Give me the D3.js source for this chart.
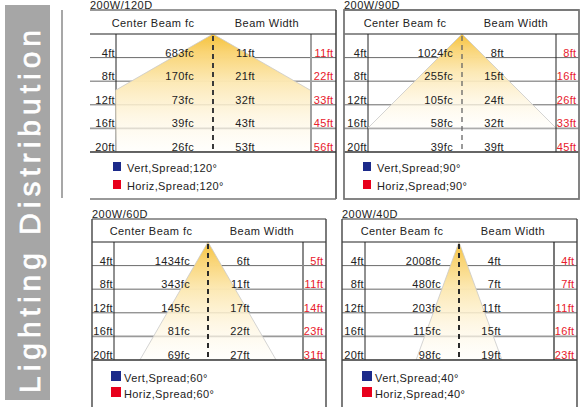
<!DOCTYPE html>
<html lang="en">
<head>
<meta charset="utf-8">
<script src="https://cdn.jsdelivr.net/npm/d3@7"></script>
<style>
  body { margin: 0; background: #fff; }
  text { font-family: "Liberation Sans", Arial, sans-serif; }
</style>
</head>
<body>
<script>
  // chart data
  const pageTitle = "Lighting Distribution";
  const panelTitles = ["200W/120D", "200W/90D", "200W/60D", "200W/40D"];
  const spreads = [120, 90, 60, 40];
  const columnHeaders = ["Center Beam fc", "Beam Width"];
  const distances = [4, 8, 12, 16, 20];
  const centerFc = [
    [683, 170, 73, 39, 26],
    [1024, 255, 105, 58, 39],
    [1434, 343, 145, 81, 69],
    [2008, 480, 203, 115, 98]
  ];
  const vertWidth = [
    [11, 21, 32, 43, 53],
    [8, 15, 24, 32, 39],
    [6, 11, 17, 22, 27],
    [4, 7, 11, 15, 19]
  ];
  const horizWidth = [
    [11, 22, 33, 45, 56],
    [8, 16, 26, 33, 45],
    [5, 11, 14, 23, 31],
    [4, 7, 11, 16, 23]
  ];
  const legendNames = ["Vert,Spread;", "Horiz,Spread;"];
  const legendColors = ["#1b2a8a", "#e8001c"];

  // where each panel sits
  const layout = [
    {x0: 90, x1: 336, top: 10, bottom: 199, hdr: 34, col1: 116, col2: 311, apex: 213, fcRight: 194,
     box: "right", fan: "rect", lx: 113, ly: 162, sq: [8, 9], tx: 127, dash: ["#3a3a3a", 2], rc: ["#a0a0a0", 2]},
    {x0: 344, x1: 579, top: 10, bottom: 199, hdr: 34, col1: 368, col2: 556, apex: 462, fcRight: 453,
     box: "full", fan: "tri", lx: 363, ly: 162, sq: [8, 9], tx: 377, dash: ["#666", 1.3], rc: ["#222", 1]},
    {x0: 92, x1: 326, top: 219, bottom: 420, hdr: 242, col1: 114, col2: 303, apex: 208, fcRight: 190,
     box: "open", fan: "tri", lx: 111, ly: 371, sq: [10, 10], tx: 124, dash: ["#2a2a2a", 2], rc: ["#8a8a8a", 2]},
    {x0: 342, x1: 577, top: 219, bottom: 420, hdr: 242, col1: 365, col2: 554, apex: 459, fcRight: 441,
     box: "open", fan: "tri", lx: 362, ly: 371, sq: [10, 10], tx: 375, dash: ["#2a2a2a", 2], rc: ["#777", 2]}
  ];

  const w = 582, h = 407;
  const svg = d3.select("body").append("svg")
    .attr("width", w)
    .attr("height", h);

  const defs = svg.append("defs");
  const grad = defs.append("linearGradient")
    .attr("id", "beam")
    .attr("x1", 0).attr("y1", 0).attr("x2", 0).attr("y2", 1);
  [[0, "#f6c23a", 1], [0.15, "#f9d474", 1], [0.4, "#fce8b2", 0.97], [0.7, "#fef5de", 0.8], [1, "#fffefa", 0.5]]
    .forEach(s => grad.append("stop")
      .attr("offset", s[0]).attr("stop-color", s[1]).attr("stop-opacity", s[2]));

  // left title band
  svg.append("rect")
    .attr("x", 5).attr("y", 5)
    .attr("width", 45).attr("height", 395)
    .attr("fill", "#a6a6a6");
  svg.append("text")
    .attr("transform", "translate(40,393) rotate(-90)")
    .attr("textLength", 363)
    .attr("lengthAdjust", "spacing")
    .style("font-size", "30px")
    .attr("fill", "#fff")
    .attr("stroke", "#fff").attr("stroke-width", 0.7)
    .text(pageTitle);
  svg.append("line")
    .attr("x1", 62).attr("x2", 62).attr("y1", 10).attr("y2", 198)
    .attr("stroke", "#8a8a8a").attr("stroke-width", 1.5);

  const ink = "#222";
  const red = "#e8202c";

  panelTitles.forEach((title, p) => {
    const L = layout[p];
    const g = svg.append("g");
    const y = d3.scaleLinear().domain([0, 20]).range([L.hdr, L.hdr + 118]);
    const x = d3.scaleLinear().domain([-20, 20]).range([L.apex - 118, L.apex + 118]);

    g.append("text")
      .attr("x", L.x0).attr("y", L.top - 1.5)
      .style("font-size", "11px").style("letter-spacing", "0.5px")
      .attr("fill", ink).text(title);

    // row lines
    g.selectAll(".row")
      .data(distances.slice(0, 4))
      .join("line")
      .attr("x1", L.x0).attr("x2", L.x1)
      .attr("y1", d => y(d)).attr("y2", d => y(d))
      .attr("stroke", (d, i) => i % 2 ? "#9a9a9a" : "#6a6a6a")
      .attr("stroke-width", (d, i) => i % 2 ? 1.6 : 1);

    // left column line (under the beam)
    g.append("line")
      .attr("x1", L.col1).attr("x2", L.col1)
      .attr("y1", y(0)).attr("y2", y(20))
      .attr("stroke", "#222").attr("stroke-width", 1);

    // beam fan
    const half = Math.tan(spreads[p] / 2 * Math.PI / 180);
    const clipId = "clip" + p;
    defs.append("clipPath").attr("id", clipId)
      .append("rect")
      .attr("x", L.col1 - 0.5).attr("y", y(0))
      .attr("width", L.col2 - L.col1).attr("height", y(20) - y(0));
    let pts;
    if (L.fan === "rect") {
      const dHit = x.invert(L.col2 + 2) / half;
      pts = [[x(0), y(0)], [x(dHit * half), y(dHit)], [x(dHit * half), y(20)],
             [x(-dHit * half), y(20)], [x(-dHit * half), y(dHit)]];
    } else {
      const dEnd = Math.min(20, x.invert(L.col2) / half);
      pts = [[x(0), y(0)], [x(dEnd * half), y(dEnd)], [x(-dEnd * half), y(dEnd)]];
    }
    g.append("path")
      .attr("d", d3.line()(pts) + "Z")
      .attr("clip-path", "url(#" + clipId + ")")
      .attr("fill", "url(#beam)")
      .attr("stroke", "#c9c9c9").attr("stroke-width", 0.8);

    // right column line
    g.append("line")
      .attr("x1", L.col2).attr("x2", L.col2)
      .attr("y1", y(0)).attr("y2", y(20))
      .attr("stroke", L.rc[0]).attr("stroke-width", L.rc[1]);

    // center dashed axis
    g.append("line")
      .attr("x1", x(0)).attr("x2", x(0))
      .attr("y1", y(0) + 2).attr("y2", y(20))
      .attr("stroke", L.dash[0]).attr("stroke-width", L.dash[1])
      .attr("stroke-dasharray", "5,4");

    // frame
    g.append("line").attr("x1", L.x0).attr("x2", L.x1).attr("y1", L.top).attr("y2", L.top)
      .attr("stroke", "#333").attr("stroke-width", 1.2);
    g.append("line").attr("x1", L.x0).attr("x2", L.x1).attr("y1", L.hdr).attr("y2", L.hdr)
      .attr("stroke", "#222").attr("stroke-width", 1.2);
    g.append("line").attr("x1", L.x0).attr("x2", L.x1).attr("y1", y(20)).attr("y2", y(20))
      .attr("stroke", "#333").attr("stroke-width", 1.6);
    if (L.box === "right") {
      g.append("line").attr("x1", L.x1).attr("x2", L.x1).attr("y1", L.top).attr("y2", L.bottom)
        .attr("stroke", "#333").attr("stroke-width", 1.4);
      g.append("line").attr("x1", L.x0).attr("x2", L.x1).attr("y1", L.bottom).attr("y2", L.bottom)
        .attr("stroke", "#777").attr("stroke-width", 1.6);
    } else if (L.box === "full") {
      g.append("rect").attr("x", L.x0).attr("y", L.top)
        .attr("width", L.x1 - L.x0).attr("height", L.bottom - L.top)
        .attr("fill", "none").attr("stroke", "#777").attr("stroke-width", 1.8);
    } else {
      [L.x0, L.x1].forEach(xx => g.append("line")
        .attr("x1", xx).attr("x2", xx).attr("y1", L.top).attr("y2", L.bottom)
        .attr("stroke", "#444").attr("stroke-width", 1.4));
    }

    // headers
    g.append("text")
      .attr("x", L.col1 + 37).attr("y", L.hdr - 7)
      .attr("text-anchor", "middle")
      .style("font-size", "11px").style("letter-spacing", "0.45px")
      .attr("fill", ink).text(columnHeaders[0]);
    g.append("text")
      .attr("x", L.apex + 54).attr("y", L.hdr - 7)
      .attr("text-anchor", "middle")
      .style("font-size", "11px").style("letter-spacing", "0.45px")
      .attr("fill", ink).text(columnHeaders[1]);

    // row texts
    const rows = distances.map((d, i) => ({d: d, fc: centerFc[p][i], v: vertWidth[p][i], hz: horizWidth[p][i]}));
    const cell = (cls, xx, anchor, fill, fmt) => g.selectAll("." + cls)
      .data(rows)
      .join("text")
      .attr("class", cls)
      .attr("x", xx).attr("y", r => y(r.d) - 1)
      .attr("text-anchor", anchor)
      .style("font-size", "11px").style("letter-spacing", "0.35px")
      .attr("fill", fill)
      .text(fmt);
    cell("dist", L.col1 - 1, "end", ink, r => r.d + "ft");
    cell("fc", L.fcRight, "end", ink, r => r.fc + "fc");
    cell("vw", L.apex + 42, "end", ink, r => r.v + "ft");
    cell("hw", L.x1 - 2.5, "end", red, r => r.hz + "ft");

    // legend
    legendNames.forEach((name, k) => {
      const top = L.ly + k * (L.sq[1] === 9 ? 18 : 16);
      g.append("rect")
        .attr("x", L.lx).attr("y", top)
        .attr("width", L.sq[0]).attr("height", L.sq[1])
        .attr("fill", legendColors[k]);
      g.append("text")
        .attr("x", L.tx).attr("y", top + L.sq[1] + 0.5)
        .style("font-size", "11px").style("letter-spacing", "0.4px")
        .attr("fill", ink)
        .text(name + spreads[p] + "°");
    });
  });
</script>
</body>
</html>
